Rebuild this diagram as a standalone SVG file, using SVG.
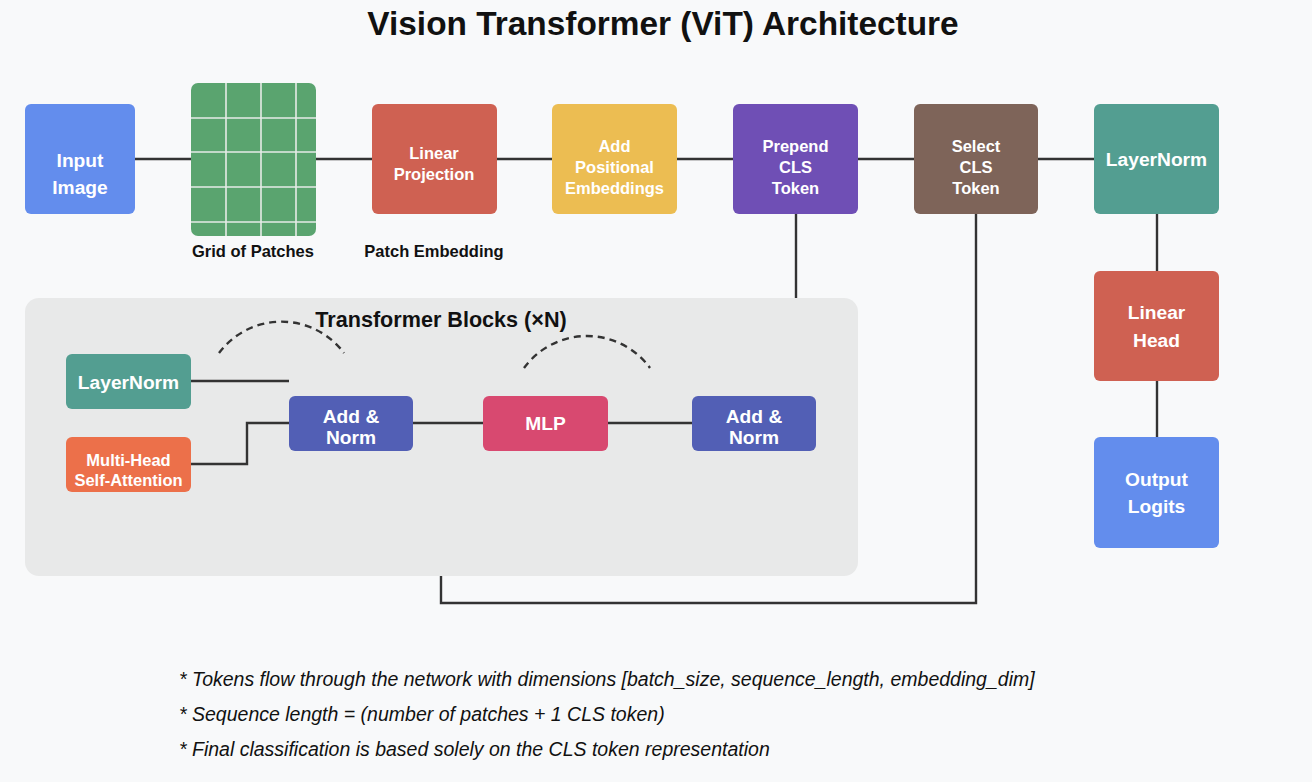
<svg xmlns="http://www.w3.org/2000/svg" width="1312" height="782" viewBox="0 0 1312 782">
<style>
.lbl{font-family:"Liberation Sans",Arial,sans-serif;font-weight:bold;fill:#fff;text-anchor:middle}
.big{font-size:19.2px}
.sm{font-size:16.5px}
.cap{font-family:"Liberation Sans",Arial,sans-serif;font-weight:bold;fill:#111;text-anchor:middle;font-size:16.5px}
.note{font-family:"Liberation Sans",Arial,sans-serif;font-style:italic;fill:#111;font-size:19.5px}
.wire{fill:none;stroke:#333;stroke-width:2.4}
.dash{fill:none;stroke:#333;stroke-width:2.4;stroke-dasharray:7,5}
.grid{stroke:#e6ebe7;stroke-width:1.6}
</style>
<rect x="0" y="0" width="1312" height="782" fill="#f8f9fa"/>
<text x="663" y="35" font-family="Liberation Sans, Arial, sans-serif" font-weight="bold" font-size="33.4" fill="#111" text-anchor="middle">Vision Transformer (ViT) Architecture</text>

<g id="container">
<rect x="25" y="298" width="833" height="278" rx="14" fill="#e8e9e9"/>
<text x="441" y="327" font-family="Liberation Sans, Arial, sans-serif" font-weight="bold" font-size="21.6" fill="#111" text-anchor="middle">Transformer Blocks (×N)</text>
</g>

<g id="connectors">
<line class="wire" x1="135" y1="159" x2="191" y2="159"/>
<line class="wire" x1="316" y1="159" x2="372" y2="159"/>
<line class="wire" x1="497" y1="159" x2="552" y2="159"/>
<line class="wire" x1="677" y1="159" x2="733" y2="159"/>
<line class="wire" x1="858" y1="159" x2="914" y2="159"/>
<line class="wire" x1="1038" y1="159" x2="1094" y2="159"/>
<line class="wire" x1="796" y1="214" x2="796" y2="298"/>
<polyline class="wire" points="976,214 976,603 441,603 441,576"/>
<line class="wire" x1="1157" y1="214" x2="1157" y2="271"/>
<line class="wire" x1="1157" y1="381" x2="1157" y2="437"/>
<line class="wire" x1="191" y1="381" x2="289" y2="381"/>
<polyline class="wire" points="191,464 247,464 247,423 289,423"/>
<line class="wire" x1="413" y1="423" x2="483" y2="423"/>
<line class="wire" x1="608" y1="423" x2="692" y2="423"/>
<path class="dash" d="M219,353 A78,78 0 0 1 344,353"/>
<path class="dash" d="M524,368 A78,78 0 0 1 650,368"/>
</g>

<g id="input-image">
<rect x="25" y="104" width="110" height="110" rx="6" fill="#638ded"/>
<text class="lbl big" x="80" y="167">Input</text>
<text class="lbl big" x="80" y="194">Image</text>
</g>

<g id="grid-of-patches">
<rect x="191" y="83" width="125" height="153" rx="7" fill="#5aa46f"/>
<line class="grid" x1="226" y1="83" x2="226" y2="236"/>
<line class="grid" x1="261" y1="83" x2="261" y2="236"/>
<line class="grid" x1="296" y1="83" x2="296" y2="236"/>
<line class="grid" x1="191" y1="118" x2="316" y2="118"/>
<line class="grid" x1="191" y1="152" x2="316" y2="152"/>
<line class="grid" x1="191" y1="187" x2="316" y2="187"/>
<line class="grid" x1="191" y1="222" x2="316" y2="222"/>
<text class="cap" x="253" y="257">Grid of Patches</text>
</g>

<g id="linear-projection">
<rect x="372" y="104" width="125" height="110" rx="6" fill="#cf6152"/>
<text class="lbl sm" x="434" y="159">Linear</text>
<text class="lbl sm" x="434" y="180">Projection</text>
<text class="cap" x="434" y="257">Patch Embedding</text>
</g>

<g id="positional-embeddings">
<rect x="552" y="104" width="125" height="110" rx="6" fill="#ecbd52"/>
<text class="lbl sm" x="614.5" y="152">Add</text>
<text class="lbl sm" x="614.5" y="173">Positional</text>
<text class="lbl sm" x="614.5" y="194">Embeddings</text>
</g>

<g id="prepend-cls">
<rect x="733" y="104" width="125" height="110" rx="6" fill="#6f4fb5"/>
<text class="lbl sm" x="795.5" y="152">Prepend</text>
<text class="lbl sm" x="795.5" y="173">CLS</text>
<text class="lbl sm" x="795.5" y="194">Token</text>
</g>

<g id="select-cls">
<rect x="914" y="104" width="124" height="110" rx="6" fill="#7e6459"/>
<text class="lbl sm" x="976" y="152">Select</text>
<text class="lbl sm" x="976" y="173">CLS</text>
<text class="lbl sm" x="976" y="194">Token</text>
</g>

<g id="layernorm-final">
<rect x="1094" y="104" width="125" height="110" rx="6" fill="#539e91"/>
<text class="lbl big" x="1156.5" y="166">LayerNorm</text>
</g>

<g id="linear-head">
<rect x="1094" y="271" width="125" height="110" rx="6" fill="#cf6152"/>
<text class="lbl big" x="1156.5" y="319">Linear</text>
<text class="lbl big" x="1156.5" y="347">Head</text>
</g>

<g id="output-logits">
<rect x="1094" y="437" width="125" height="111" rx="6" fill="#638ded"/>
<text class="lbl big" x="1156.5" y="486">Output</text>
<text class="lbl big" x="1156.5" y="513">Logits</text>
</g>

<g id="block-layernorm">
<rect x="66" y="354" width="125" height="55" rx="6" fill="#539e91"/>
<text class="lbl big" x="128.5" y="389">LayerNorm</text>
</g>

<g id="block-mhsa">
<rect x="66" y="437" width="125" height="55" rx="6" fill="#ec704a"/>
<text class="lbl sm" x="128.5" y="466">Multi-Head</text>
<text class="lbl sm" x="128.5" y="486">Self-Attention</text>
</g>

<g id="block-addnorm1">
<rect x="289" y="396" width="124" height="55" rx="6" fill="#525fb5"/>
<text class="lbl big" x="351" y="423">Add &amp;</text>
<text class="lbl big" x="351" y="444">Norm</text>
</g>

<g id="block-mlp">
<rect x="483" y="396" width="125" height="55" rx="6" fill="#d84970"/>
<text class="lbl big" x="545.5" y="430">MLP</text>
</g>

<g id="block-addnorm2">
<rect x="692" y="396" width="124" height="55" rx="6" fill="#525fb5"/>
<text class="lbl big" x="754" y="423">Add &amp;</text>
<text class="lbl big" x="754" y="444">Norm</text>
</g>

<g id="notes">
<text class="note" x="179" y="686">* Tokens flow through the network with dimensions [batch_size, sequence_length, embedding_dim]</text>
<text class="note" x="179" y="721">* Sequence length = (number of patches + 1 CLS token)</text>
<text class="note" x="179" y="756">* Final classification is based solely on the CLS token representation</text>
</g>
</svg>
